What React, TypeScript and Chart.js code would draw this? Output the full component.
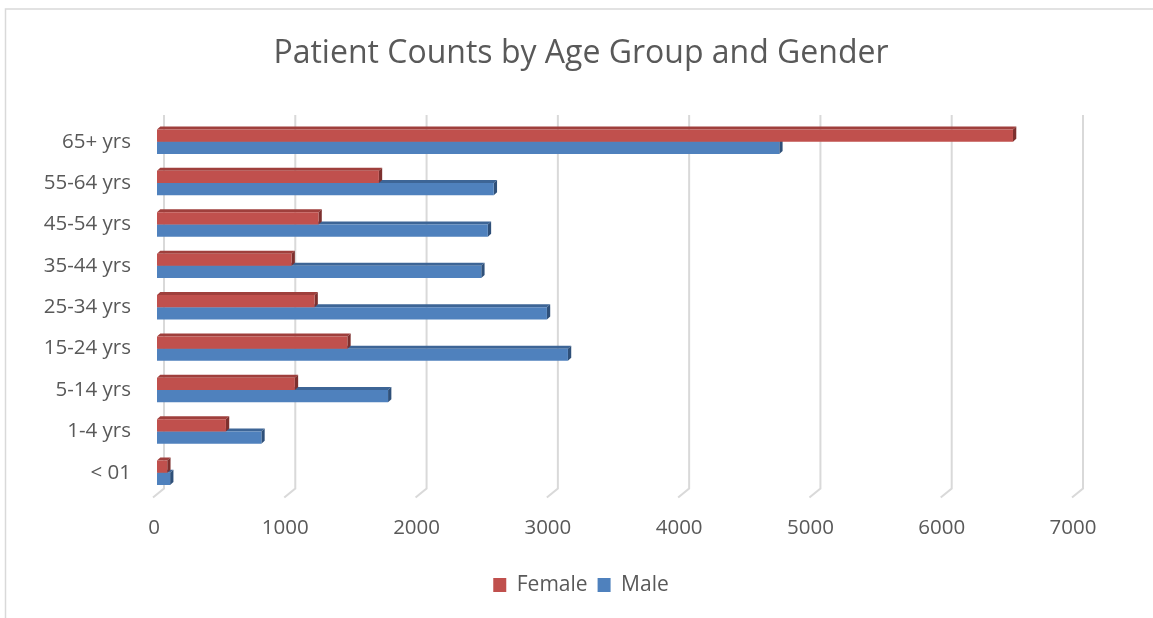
import React, { useEffect, useRef } from "react";
import { Chart, registerables } from "chart.js";

Chart.register(...registerables);

// ---- data ----
const categories = [
  "65+ yrs",
  "55-64 yrs",
  "45-54 yrs",
  "35-44 yrs",
  "25-34 yrs",
  "15-24 yrs",
  "5-14 yrs",
  "1-4 yrs",
  "< 01",
];
const femaleCounts = [6520, 1690, 1230, 1025, 1200, 1450, 1050, 525, 78];
const maleCounts = [4740, 2565, 2520, 2470, 2970, 3130, 1760, 795, 100];
const xMin = 0;
const xMax = 7000;
const xStep = 1000;
const chartTitle = "Patient Counts by Age Group and Gender";

// ---- styles ----
const FONT = "'Open Sans', 'Noto Sans', sans-serif";
const TEXT = "#595959";
const GRID = "#d9d9d9";
const DX = 3.3;
const DY = 3;
const faceColors: Record<string, { front: string; top: string; side: string }> = {
  Female: { front: "#c0504d", top: "#9f3f3c", side: "#7d302e" },
  Male: { front: "#4f81bd", top: "#3d6596", side: "#2f5079" },
};

const framePlugin = {
  id: "frame",
  beforeDraw(chart: any) {
    const { ctx, width, height } = chart;
    ctx.save();
    ctx.fillStyle = "#ffffff";
    ctx.fillRect(0, 0, width, height);
    ctx.strokeStyle = GRID;
    ctx.lineWidth = 1.5;
    ctx.beginPath();
    ctx.moveTo(5.5, height);
    ctx.lineTo(5.5, 9);
    ctx.lineTo(width, 9);
    ctx.stroke();
    ctx.restore();
  },
};

const grid3dPlugin = {
  id: "grid3d",
  beforeDatasetsDraw(chart: any) {
    const { ctx, chartArea, scales } = chart;
    const x = scales.x;
    ctx.save();
    ctx.strokeStyle = GRID;
    ctx.lineWidth = 2;
    x.ticks.forEach((t: any) => {
      const px = x.getPixelForValue(t.value);
      ctx.beginPath();
      ctx.moveTo(px + 7, chartArea.top - 6);
      ctx.lineTo(px + 7, chartArea.bottom - 5);
      ctx.lineTo(px - 4, chartArea.bottom + 4);
      ctx.stroke();
    });
    ctx.restore();
  },
};

const bar3dPlugin = {
  id: "bar3d",
  beforeDatasetDraw(chart: any, args: any) {
    const ctx = chart.ctx;
    const ds = chart.data.datasets[args.index];
    const fc = faceColors[ds.label];
    if (!fc) return;
    args.meta.data.forEach((el: any) => {
      const { x, y, base, height } = el.getProps(["x", "y", "base", "height"], true);
      const top = y - height / 2;
      const bot = y + height / 2;
      const x0 = Math.min(base, x);
      const x1 = Math.max(base, x);
      ctx.save();
      ctx.fillStyle = fc.top;
      ctx.beginPath();
      ctx.moveTo(x0, top);
      ctx.lineTo(x0 + DX, top - DY);
      ctx.lineTo(x1 + DX, top - DY);
      ctx.lineTo(x1, top);
      ctx.closePath();
      ctx.fill();
      ctx.fillStyle = fc.side;
      ctx.beginPath();
      ctx.moveTo(x1, top);
      ctx.lineTo(x1 + DX, top - DY);
      ctx.lineTo(x1 + DX, bot - DY);
      ctx.lineTo(x1, bot);
      ctx.closePath();
      ctx.fill();
      ctx.restore();
    });
  },
};

export default function App() {
  const ref = useRef<HTMLCanvasElement | null>(null);

  useEffect(() => {
    if (!ref.current) return;
    const chart = new Chart(ref.current, {
      type: "bar",
      data: {
        labels: categories,
        datasets: [
          {
            label: "Female",
            data: femaleCounts,
            backgroundColor: faceColors.Female.front,
            borderWidth: 0,
            categoryPercentage: 0.59,
            barPercentage: 1.0,
          },
          {
            label: "Male",
            data: maleCounts,
            backgroundColor: faceColors.Male.front,
            borderWidth: 0,
            categoryPercentage: 0.59,
            barPercentage: 1.0,
          },
        ],
      },
      options: {
        indexAxis: "y",
        responsive: false,
        animation: false,
        layout: { padding: { left: 9, right: 0, top: 0, bottom: 12.5 } },
        scales: {
          x: {
            min: xMin,
            max: xMax,
            ticks: {
              stepSize: xStep,
              color: TEXT,
              font: { family: FONT, size: 20.5 },
              padding: 22,
              labelOffset: -3,
              maxRotation: 0,
              callback: (v: any) => String(v),
            },
            grid: { display: false, drawTicks: false },
            border: { display: false },
            afterFit: (s: any) => {
              s.height = 71;
              s.paddingRight = 77;
            },
          },
          y: {
            ticks: {
              color: TEXT,
              font: { family: FONT, size: 20.5 },
              padding: 26,
            },
            grid: { display: false, drawTicks: false },
            border: { display: false },
            afterFit: (s: any) => {
              s.width = 148;
            },
          },
        },
        plugins: {
          title: {
            display: true,
            text: chartTitle,
            color: TEXT,
            font: { family: FONT, size: 32, weight: "normal" },
            padding: { top: 35, bottom: 47.6 },
          },
          legend: {
            position: "bottom",
            labels: {
              boxWidth: 13,
              boxHeight: 14,
              color: TEXT,
              font: { family: FONT, size: 21 },
              padding: 10,
            },
          },
          tooltip: { enabled: false },
        },
      },
      plugins: [framePlugin, grid3dPlugin, bar3dPlugin],
    } as any);
    return () => chart.destroy();
  }, []);

  return (
    <div style={{ position: "fixed", left: 0, top: 0, width: 1153, height: 618 }}>
      <canvas ref={ref} width={1153} height={618} style={{ display: "block" }} />
    </div>
  );
}
